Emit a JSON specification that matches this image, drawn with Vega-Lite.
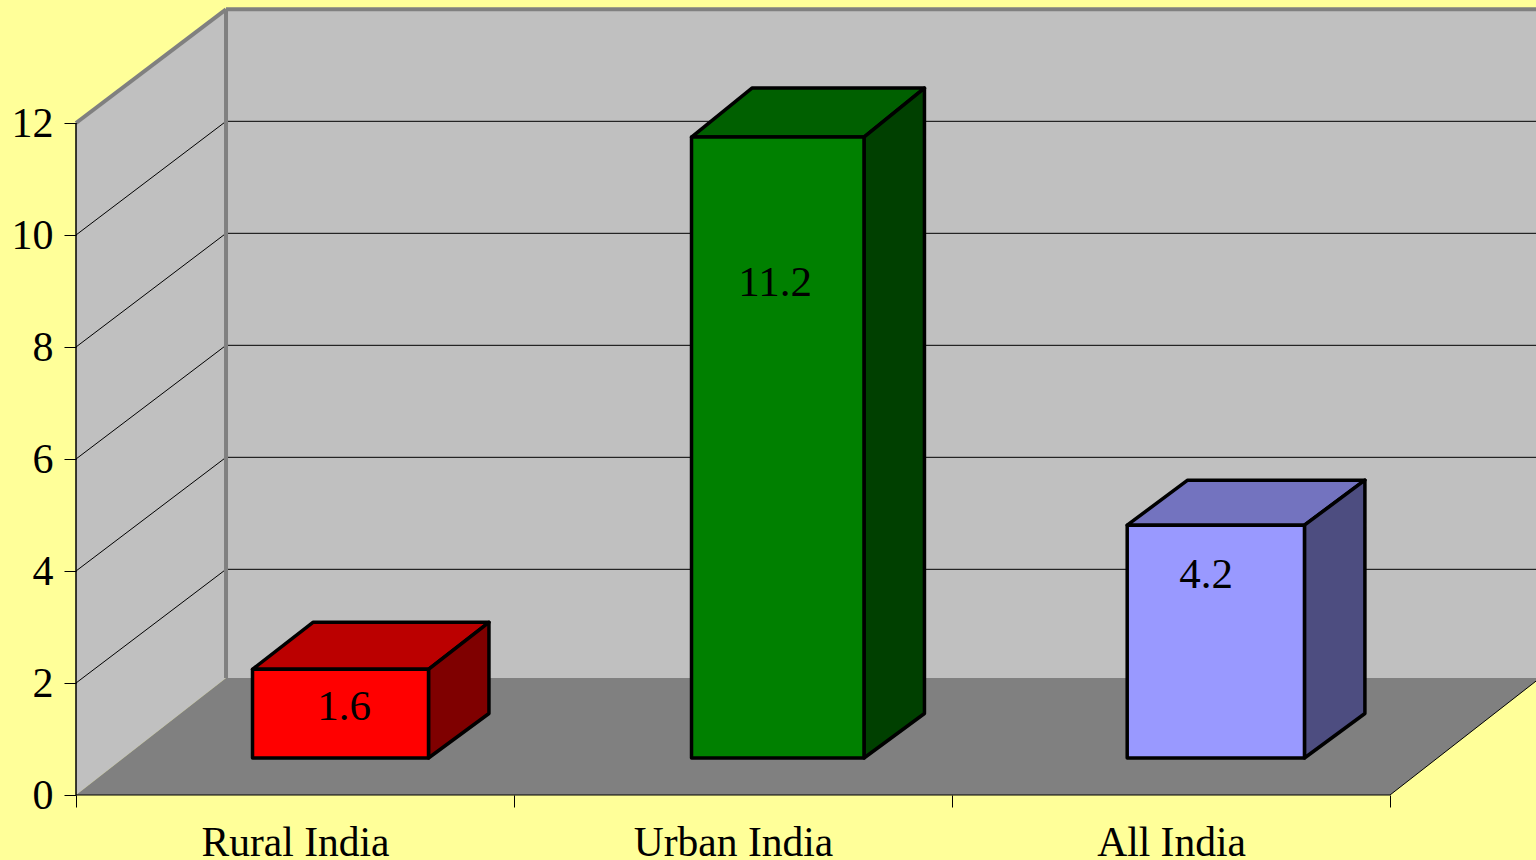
{
  "$schema": "https://vega.github.io/schema/vega-lite/v6.json",
  "width": 1536,
  "height": 860,
  "padding": 0,
  "autosize": "none",
  "background": "#ffff99",
  "config": {
    "view": {"stroke": null}
  },
  "datasets": {
    "shares": [
      {"category": "Rural India", "value": 1.6},
      {"category": "Urban India", "value": 11.2},
      {"category": "All India", "value": 4.2}
    ],
    "gridTicks": [{"tick": 2}, {"tick": 4}, {"tick": 6}, {"tick": 8}, {"tick": 10}],
    "depths": [{"depth": 0}, {"depth": 1}],
    "frame": [{"part": "frame"}]
  },
  "data": {"name": "shares"},
  "transform": [
    {"calculate": "indexof(['Rural India','Urban India','All India'], datum.category)", "as": "idx"},
    {"calculate": "[0.403,1.4053,2.4][datum.idx]", "as": "x0"},
    {"calculate": "datum.x0 + [0.4018,0.3938,0.4047][datum.idx]", "as": "x1"},
    {"calculate": "0.6607", "as": "base"},
    {"calculate": "datum.base + datum.value * 0.99", "as": "top"},
    {"calculate": "[0.84,0.875,0.804][datum.idx]", "as": "rise"},
    {"calculate": "[0.612,1.596,2.58][datum.idx]", "as": "labelX"},
    {"calculate": "[1.571,9.143,3.929][datum.idx]", "as": "labelY"},
    {"calculate": "[0,1]", "as": "depth"}
  ],
  "layer": [
    {
      "data": {"name": "frame"},
      "transform": [{"calculate": "0.3425", "as": "wallX"}, {"calculate": "3.33333", "as": "wallX2"}, {"calculate": "2.09", "as": "wallY"}, {"calculate": "14.03", "as": "wallY2"}],
      "mark": {"type": "rect", "fill": "#c0c0c0", "clip": true},
      "encoding": {
        "x": {
          "field": "wallX",
          "type": "quantitative",
          "scale": {"domain": [-0.17352, 3.33333], "nice": false, "zero": false},
          "axis": {
            "orient": "bottom",
            "offset": -65,
            "title": null,
            "grid": false,
            "domain": false,
            "zindex": 1,
            "values": [0, 0.5, 1, 1.5, 2, 2.5, 3],
            "tickSize": 12,
            "tickWidth": 1,
            "tickColor": "#000000",
            "tickOpacity": {"condition": {"test": "datum.value % 1 != 0", "value": 0}, "value": 1},
            "labelPadding": 15,
            "labelLimit": 400,
            "labelOverlap": false,
            "labelFlush": false,
            "labelBound": false,
            "labelFont": "Liberation Serif",
            "labelColor": "#000000",
            "labelFontSize": 41.5,
            "labelExpr": "datum.value == 0.5 ? 'Rural India' : datum.value == 1.5 ? 'Urban India' : datum.value == 2.5 ? 'All India' : ''"
          }
        },
        "x2": {"field": "wallX2"},
        "y": {
          "field": "wallY",
          "type": "quantitative",
          "scale": {"domain": [-1.16071, 14.19643], "nice": false, "zero": false},
          "axis": {
            "orient": "left",
            "offset": -76,
            "title": null,
            "grid": false,
            "domain": false,
            "zindex": 1,
            "values": [0, 2, 4, 6, 8, 10, 12],
            "tickSize": 12,
            "tickWidth": 1,
            "tickColor": "#000000",
            "labelPadding": 11,
            "labelOverlap": false,
            "labelFlush": false,
            "labelBound": false,
            "labelFont": "Liberation Serif",
            "labelColor": "#000000",
            "labelFontSize": 42
          }
        },
        "y2": {"field": "wallY2"}
      }
    },
    {
      "data": {"name": "depths"},
      "transform": [
        {"calculate": "datum.depth * 0.3425", "as": "wx"},
        {"calculate": "datum.depth * 2.09", "as": "wlow"},
        {"calculate": "12 + datum.depth * 2.03", "as": "whigh"}
      ],
      "mark": {"type": "area", "fill": "#c0c0c0"},
      "encoding": {
        "x": {"field": "wx", "type": "quantitative", "axis": null},
        "y": {"field": "whigh", "type": "quantitative", "axis": null},
        "y2": {"field": "wlow"}
      }
    },
    {
      "data": {"name": "depths"},
      "transform": [
        {"calculate": "datum.depth * 0.3425", "as": "fx"},
        {"calculate": "3 + datum.depth * 0.3425", "as": "fx2"},
        {"calculate": "datum.depth * 2.09", "as": "fy"}
      ],
      "mark": {"type": "area", "orient": "horizontal", "fill": "#808080", "clip": true},
      "encoding": {
        "y": {"field": "fy", "type": "quantitative", "axis": null},
        "x": {"field": "fx", "type": "quantitative", "axis": null},
        "x2": {"field": "fx2"}
      }
    },
    {
      "data": {"name": "gridTicks"},
      "transform": [{"calculate": "datum.tick + 2.03", "as": "backY"}],
      "mark": {"type": "rule", "stroke": "#000000", "strokeWidth": 1},
      "encoding": {
        "x": {"datum": 0, "type": "quantitative", "axis": null},
        "x2": {"datum": 0.3425},
        "y": {"field": "tick", "type": "quantitative", "axis": null},
        "y2": {"field": "backY"}
      }
    },
    {
      "data": {"name": "gridTicks"},
      "transform": [{"calculate": "datum.tick + 2.03", "as": "backY"}],
      "mark": {"type": "rule", "stroke": "#000000", "strokeWidth": 1},
      "encoding": {
        "x": {"datum": 0.3425, "type": "quantitative", "axis": null},
        "x2": {"datum": 3.33333},
        "y": {"field": "backY", "type": "quantitative", "axis": null}
      }
    },
    {
      "data": {"name": "frame"},
      "transform": [],
      "mark": {"type": "rule", "stroke": "#808080", "strokeWidth": 4},
      "encoding": {
        "x": {"datum": 0, "type": "quantitative", "axis": null},
        "x2": {"datum": 0.3425},
        "y": {"datum": 12, "type": "quantitative", "axis": null},
        "y2": {"datum": 14.03}
      }
    },
    {
      "data": {"name": "frame"},
      "transform": [],
      "mark": {"type": "rule", "stroke": "#808080", "strokeWidth": 4},
      "encoding": {
        "x": {"datum": 0.3425, "type": "quantitative", "axis": null},
        "x2": {"datum": 3.33333},
        "y": {"datum": 14.03, "type": "quantitative", "axis": null}
      }
    },
    {
      "data": {"name": "frame"},
      "transform": [],
      "mark": {"type": "rule", "stroke": "#808080", "strokeWidth": 4},
      "encoding": {
        "x": {"datum": 0.3425, "type": "quantitative", "axis": null},
        "y": {"datum": 2.09, "type": "quantitative", "axis": null},
        "y2": {"datum": 14.03}
      }
    },
    {
      "data": {"name": "frame"},
      "transform": [],
      "mark": {"type": "rule", "stroke": "#000000", "strokeWidth": 1.5},
      "encoding": {
        "x": {"datum": 0, "type": "quantitative", "axis": null},
        "y": {"datum": 0, "type": "quantitative", "axis": null},
        "y2": {"datum": 12}
      }
    },
    {
      "data": {"name": "frame"},
      "transform": [],
      "mark": {"type": "rule", "stroke": "#000000", "strokeWidth": 1},
      "encoding": {
        "x": {"datum": 0, "type": "quantitative", "axis": null},
        "x2": {"datum": 3},
        "y": {"datum": 0, "type": "quantitative", "axis": null}
      }
    },
    {
      "data": {"name": "frame"},
      "transform": [],
      "mark": {"type": "rule", "stroke": "#000000", "strokeWidth": 1, "clip": true},
      "encoding": {
        "x": {"datum": 3, "type": "quantitative", "axis": null},
        "x2": {"datum": 3.3425},
        "y": {"datum": 0, "type": "quantitative", "axis": null},
        "y2": {"datum": 2.09}
      }
    },
    {
      "transform": [
        {"flatten": ["depth"]},
        {"calculate": "datum.top + datum.depth * datum.rise", "as": "ty"},
        {"calculate": "datum.x0 + datum.depth * 0.138", "as": "tx0"},
        {"calculate": "datum.x1 + datum.depth * 0.138", "as": "tx1"}
      ],
      "mark": {"type": "area", "orient": "horizontal", "stroke": "#000000", "strokeWidth": 3.5, "strokeJoin": "round"},
      "encoding": {
        "y": {"field": "ty", "type": "quantitative", "axis": null},
        "x": {"field": "tx0", "type": "quantitative", "axis": null},
        "x2": {"field": "tx1"},
        "color": {
          "field": "category",
          "type": "nominal",
          "legend": null,
          "scale": {"domain": ["Rural India", "Urban India", "All India"], "range": ["#bb0000", "#006000", "#7373bf"]}
        }
      }
    },
    {
      "transform": [
        {"flatten": ["depth"]},
        {"calculate": "datum.x1 + datum.depth * 0.138", "as": "sx"},
        {"calculate": "datum.top + datum.depth * datum.rise", "as": "sTop"},
        {"calculate": "datum.base + datum.depth * 0.795", "as": "sBase"}
      ],
      "mark": {"type": "area", "stroke": "#000000", "strokeWidth": 3.5, "strokeJoin": "round"},
      "encoding": {
        "x": {"field": "sx", "type": "quantitative", "axis": null},
        "y": {"field": "sTop", "type": "quantitative", "axis": null},
        "y2": {"field": "sBase"},
        "color": {
          "field": "category",
          "type": "nominal",
          "legend": null,
          "scale": {"domain": ["Rural India", "Urban India", "All India"], "range": ["#7f0000", "#004000", "#4d4d80"]}
        }
      }
    },
    {
      "mark": {"type": "rect", "stroke": "#000000", "strokeWidth": 3.5, "strokeJoin": "round"},
      "encoding": {
        "x": {"field": "x0", "type": "quantitative", "axis": null},
        "x2": {"field": "x1"},
        "y": {"field": "top", "type": "quantitative", "axis": null},
        "y2": {"field": "base"},
        "color": {
          "field": "category",
          "type": "nominal",
          "legend": null,
          "scale": {"domain": ["Rural India", "Urban India", "All India"], "range": ["#ff0000", "#008000", "#9999ff"]}
        }
      }
    },
    {
      "mark": {"type": "text", "font": "Liberation Serif", "fontSize": 43, "fill": "#000000", "align": "center", "baseline": "middle"},
      "encoding": {
        "x": {"field": "labelX", "type": "quantitative", "axis": null},
        "y": {"field": "labelY", "type": "quantitative", "axis": null},
        "text": {"field": "value", "type": "quantitative", "format": ".1f"}
      }
    }
  ],
  "resolve": {"scale": {"color": "independent"}, "axis": {"x": "independent", "y": "independent"}}
}
